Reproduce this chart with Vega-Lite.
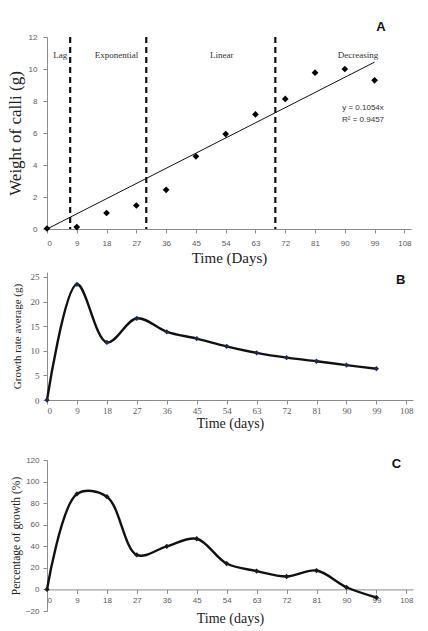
{
  "$schema": "https://vega.github.io/schema/vega-lite/v6.json",
  "background": "white",
  "padding": {"left": 6, "top": 21, "right": 5, "bottom": 5},
  "config": {
    "view": {"stroke": null},
    "axis": {
      "grid": false,
      "labelOverlap": false,
      "tickCount": 20,
      "format": "d",
      "domainColor": "#8c8c8c",
      "tickColor": "#8c8c8c",
      "tickSize": 4,
      "labelColor": "#5a5a5a",
      "labelFont": "Liberation Serif",
      "labelFontSize": 9,
      "titleFont": "Liberation Serif",
      "titleFontWeight": "normal",
      "titleColor": "#222222"
    }
  },
  "bounds": "flush",
  "spacing": 43,
  "vconcat": [
    {
      "width": 364,
      "height": 192,
      "layer": [
        {
          "data": {"values": [{"day": 7}, {"day": 30}, {"day": 69}]},
          "mark": {"type": "rule", "strokeDash": [6, 4], "strokeWidth": 2.2, "color": "#111111"},
          "encoding": {
            "x": {"field": "day", "type": "quantitative", "scale": {"domain": [0, 108]}}
          }
        },
        {
          "data": {"values": [{"day": 0, "weight": 0}, {"day": 99, "weight": 10.43}]},
          "mark": {"type": "line", "color": "#111111", "strokeWidth": 1},
          "encoding": {
            "x": {"field": "day", "type": "quantitative"},
            "y": {"field": "weight", "type": "quantitative"}
          }
        },
        {
          "data": {"values": [
            {"day": 0, "weight": 0.03},
            {"day": 9, "weight": 0.12},
            {"day": 18, "weight": 1.0},
            {"day": 27, "weight": 1.47},
            {"day": 36, "weight": 2.45},
            {"day": 45, "weight": 4.54},
            {"day": 54, "weight": 5.93},
            {"day": 63, "weight": 7.16},
            {"day": 72, "weight": 8.13},
            {"day": 81, "weight": 9.77},
            {"day": 90, "weight": 10.0},
            {"day": 99, "weight": 9.29}
          ]},
          "mark": {"type": "point", "shape": "diamond", "filled": true, "size": 45, "color": "#000000", "opacity": 1},
          "encoding": {
            "x": {
              "field": "day", "type": "quantitative",
              "scale": {"domain": [0, 108]},
              "axis": {
                "title": "Time (Days)",
                "values": [0, 9, 18, 27, 36, 45, 54, 63, 72, 81, 90, 99, 108],
                "format": "d",
                "tickCount": 20,
                "labelOverlap": false,
                "labelFont": "Liberation Sans",
                "labelFontSize": 8,
                "labelPadding": 6,
                "titleFontSize": 15,
                "titlePadding": 3
              }
            },
            "y": {
              "field": "weight", "type": "quantitative",
              "scale": {"domain": [0, 12]},
              "axis": {
                "title": "Weight of calli (g)",
                "values": [0, 2, 4, 6, 8, 10, 12],
                "format": "d",
                "tickCount": 20,
                "labelOverlap": false,
                "labelFont": "Liberation Sans",
                "labelFontSize": 8,
                "labelPadding": 6,
                "titleFontSize": 17,
                "titlePadding": 4
              }
            }
          }
        },
        {
          "data": {"values": [
            {"day": 4.0, "weight": 10.9, "label": "Lag"},
            {"day": 21, "weight": 10.9, "label": "Exponential"},
            {"day": 52.8, "weight": 10.9, "label": "Linear"},
            {"day": 94, "weight": 10.9, "label": "Decreasing"}
          ]},
          "mark": {"type": "text", "font": "Liberation Serif", "fontSize": 9, "color": "#333333"},
          "encoding": {
            "x": {"field": "day", "type": "quantitative"},
            "y": {"field": "weight", "type": "quantitative"},
            "text": {"field": "label"}
          }
        },
        {
          "data": {"values": [
            {"day": 95.5, "weight": 7.58, "label": "y = 0.1054x"},
            {"day": 95.5, "weight": 6.84, "label": "R² = 0.9457"}
          ]},
          "mark": {"type": "text", "font": "Liberation Sans", "fontSize": 8, "color": "#333333"},
          "encoding": {
            "x": {"field": "day", "type": "quantitative"},
            "y": {"field": "weight", "type": "quantitative"},
            "text": {"field": "label"}
          }
        },
        {
          "data": {"values": [{"day": 100.9, "weight": 12.6, "label": "A"}]},
          "mark": {"type": "text", "font": "Liberation Sans", "fontSize": 13, "fontWeight": "bold", "color": "#111111"},
          "encoding": {
            "x": {"field": "day", "type": "quantitative"},
            "y": {"field": "weight", "type": "quantitative"},
            "text": {"field": "label"}
          }
        }
      ]
    },
    {
      "bounds": "flush",
      "spacing": 60,
      "vconcat": [
        {
          "width": 366,
          "height": 128,
          "data": {"values": [
            {"day": 0, "rate": 0},
            {"day": 9, "rate": 23.5},
            {"day": 18, "rate": 11.7},
            {"day": 27, "rate": 16.6},
            {"day": 36, "rate": 13.85},
            {"day": 45, "rate": 12.47},
            {"day": 54, "rate": 10.9},
            {"day": 63, "rate": 9.58},
            {"day": 72, "rate": 8.6},
            {"day": 81, "rate": 7.87},
            {"day": 90, "rate": 7.09},
            {"day": 99, "rate": 6.36}
          ]},
          "layer": [
            {
              "mark": {"type": "line", "interpolate": "catmull-rom", "color": "#111111", "strokeWidth": 2.4},
              "encoding": {
                "x": {
                  "field": "day", "type": "quantitative",
                  "scale": {"domain": [0, 108]},
                  "axis": {
                    "title": "Time (days)",
                    "values": [0, 9, 18, 27, 36, 45, 54, 63, 72, 81, 90, 99, 108],
                    "format": "d",
                    "tickCount": 20,
                    "labelOverlap": false,
                    "labelPadding": 2,
                    "titleFontSize": 14,
                    "titlePadding": 1
                  }
                },
                "y": {
                  "field": "rate", "type": "quantitative",
                  "scale": {"domain": [0, 25]},
                  "axis": {
                    "title": "Growth rate average (g)",
                    "values": [0, 5, 10, 15, 20, 25],
                    "format": "d",
                    "tickCount": 20,
                    "labelOverlap": false,
                    "labelPadding": 4,
                    "titleFontSize": 11,
                    "titlePadding": 8
                  }
                }
              }
            },
            {
              "mark": {"type": "point", "shape": "diamond", "filled": true, "size": 28, "color": "#1c2a55", "opacity": 1},
              "encoding": {
                "x": {"field": "day", "type": "quantitative"},
                "y": {"field": "rate", "type": "quantitative"}
              }
            },
            {
              "data": {"values": [{"day": 106.3, "rate": 24.4, "label": "B"}]},
              "mark": {"type": "text", "font": "Liberation Sans", "fontSize": 13, "fontWeight": "bold", "color": "#111111"},
              "encoding": {
                "x": {"field": "day", "type": "quantitative"},
                "y": {"field": "rate", "type": "quantitative"},
                "text": {"field": "label"}
              }
            }
          ]
        },
        {
          "width": 366,
          "height": 151,
          "data": {"values": [
            {"day": 0, "pct": 0},
            {"day": 9, "pct": 88.5},
            {"day": 18, "pct": 86},
            {"day": 27, "pct": 32},
            {"day": 36, "pct": 40},
            {"day": 45, "pct": 47},
            {"day": 54, "pct": 24},
            {"day": 63, "pct": 17},
            {"day": 72, "pct": 12},
            {"day": 81, "pct": 17.5},
            {"day": 90, "pct": 2},
            {"day": 99, "pct": -7.5}
          ]},
          "layer": [
            {
              "mark": {"type": "line", "interpolate": "catmull-rom", "color": "#111111", "strokeWidth": 2.4},
              "encoding": {
                "x": {
                  "field": "day", "type": "quantitative",
                  "scale": {"domain": [0, 108]},
                  "axis": {
                    "title": "Time (days)",
                    "values": [0, 9, 18, 27, 36, 45, 54, 63, 72, 81, 90, 99, 108],
                    "format": "d",
                    "tickCount": 20,
                    "labelOverlap": false,
                    "offset": -21.6,
                    "labelFont": "Liberation Sans",
                    "labelFontSize": 8,
                    "labelPadding": 3,
                    "titleFontSize": 14,
                    "titlePadding": 7
                  }
                },
                "y": {
                  "field": "pct", "type": "quantitative",
                  "scale": {"domain": [-20, 120]},
                  "axis": {
                    "title": "Percentage of growth (%)",
                    "values": [-20, 0, 20, 40, 60, 80, 100, 120],
                    "format": "d",
                    "tickCount": 20,
                    "labelOverlap": false,
                    "labelFont": "Liberation Sans",
                    "labelFontSize": 8,
                    "labelPadding": 4,
                    "titleFontSize": 11.5,
                    "titlePadding": 4
                  }
                }
              }
            },
            {
              "mark": {"type": "point", "shape": "diamond", "filled": true, "size": 28, "color": "#1a1a1a", "opacity": 1},
              "encoding": {
                "x": {"field": "day", "type": "quantitative"},
                "y": {"field": "pct", "type": "quantitative"}
              }
            },
            {
              "data": {"values": [{"day": 105, "pct": 116, "label": "C"}]},
              "mark": {"type": "text", "font": "Liberation Sans", "fontSize": 13, "fontWeight": "bold", "color": "#111111"},
              "encoding": {
                "x": {"field": "day", "type": "quantitative"},
                "y": {"field": "pct", "type": "quantitative"},
                "text": {"field": "label"}
              }
            }
          ]
        }
      ]
    }
  ]
}
